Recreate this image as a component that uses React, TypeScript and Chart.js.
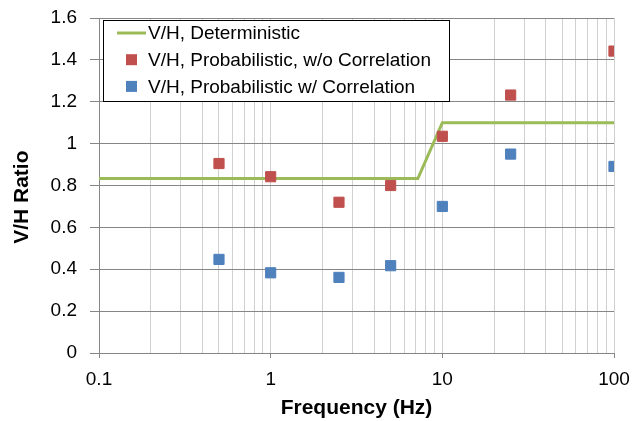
import React, { useEffect, useRef } from "react";
import { Chart, registerables } from "chart.js";

Chart.register(...registerables);

const frequencies = [0.5, 1, 2.5, 5, 10, 25, 100];
const ratioNoCorrelation = [0.905, 0.842, 0.72, 0.8, 1.035, 1.232, 1.442];
const ratioWithCorrelation = [0.447, 0.383, 0.361, 0.417, 0.7, 0.95, 0.891];
const deterministicFreq = [0.1, 7.2, 10, 100];
const deterministicRatio = [0.833, 0.833, 1.1, 1.1];
const seriesLabels = [
  "V/H, Deterministic",
  "V/H, Probabilistic, w/o Correlation",
  "V/H, Probabilistic w/ Correlation",
];
const seriesColors = ["#9BBB59", "#C0504D", "#4F81BD"];
const xDecades = [0.1, 1, 10];
const xMax = 100;
const yMin = 0;
const yMax = 1.6;
const yStep = 0.2;

const FONT = "'Liberation Sans', Arial, sans-serif";

const isMajor = (v: number) => {
  const l = Math.log10(v);
  return Math.abs(l - Math.round(l)) < 1e-9;
};

const legendPlugin = {
  id: "boxLegend",
  afterDraw(chart: any) {
    const ctx = chart.ctx;
    const area = chart.chartArea;
    const x0 = area.left + 4;
    const y0 = area.top + 2;
    const w = 346;
    const h = 81;
    ctx.save();
    ctx.fillStyle = "#ffffff";
    ctx.fillRect(x0, y0, w, h);
    ctx.strokeStyle = "#000000";
    ctx.lineWidth = 1;
    ctx.strokeRect(x0 + 0.5, y0 + 0.5, w, h);
    ctx.font = `19px ${FONT}`;
    ctx.textBaseline = "middle";
    ctx.textAlign = "left";
    seriesLabels.forEach((label, i) => {
      const cy = y0 + 13 + i * 26.7;
      if (i === 0) {
        ctx.strokeStyle = seriesColors[0];
        ctx.lineWidth = 3;
        ctx.beginPath();
        ctx.moveTo(x0 + 14, cy);
        ctx.lineTo(x0 + 43, cy);
        ctx.stroke();
      } else {
        ctx.fillStyle = seriesColors[i];
        ctx.fillRect(x0 + 23, cy - 5.5, 11, 11);
      }
      ctx.fillStyle = "#000000";
      ctx.fillText(label, x0 + 45, cy + 1);
    });
    ctx.restore();
  },
};

export default function App() {
  const canvasRef = useRef<HTMLCanvasElement | null>(null);

  useEffect(() => {
    document.body.style.margin = "0";
    const canvas = canvasRef.current;
    if (!canvas) return;

    const chart = new Chart(canvas, {
      type: "scatter",
      data: {
        datasets: [
          {
            label: seriesLabels[0],
            data: deterministicFreq.map((x, i) => ({ x, y: deterministicRatio[i] })),
            showLine: true,
            borderColor: seriesColors[0],
            backgroundColor: seriesColors[0],
            borderWidth: 3,
            pointRadius: 0,
            order: 5,
          },
          {
            label: seriesLabels[1],
            data: frequencies.map((x, i) => ({ x, y: ratioNoCorrelation[i] })),
            pointStyle: "rect",
            pointRadius: 7.2,
            pointBorderWidth: 1,
            borderColor: seriesColors[1],
            backgroundColor: seriesColors[1],
            order: 1,
          },
          {
            label: seriesLabels[2],
            data: frequencies.map((x, i) => ({ x, y: ratioWithCorrelation[i] })),
            pointStyle: "rect",
            pointRadius: 7.2,
            pointBorderWidth: 1,
            borderColor: seriesColors[2],
            backgroundColor: seriesColors[2],
            order: 0,
          },
        ],
      },
      options: {
        animation: false,
        responsive: false,
        layout: { padding: { top: 18, right: 20, left: 0, bottom: 0 } },
        plugins: {
          legend: { display: false },
          tooltip: { enabled: false },
        },
        scales: {
          x: {
            type: "logarithmic",
            min: xDecades[0],
            max: xMax,
            afterFit: (scale: any) => {
              scale.height = 68;
              scale.paddingLeft = 0;
              scale.paddingRight = 0;
            },
            afterBuildTicks: (scale: any) => {
              const ticks: { value: number }[] = [];
              xDecades.forEach((d) => {
                for (let m = 1; m <= 9; m++) ticks.push({ value: m * d });
              });
              ticks.push({ value: xMax });
              scale.ticks = ticks;
            },
            border: { color: "#868686", width: 1 },
            grid: {
              color: "#D0D0D0",
              lineWidth: 1,
              tickLength: 5,
              tickColor: (ctx: any) =>
                ctx.tick && isMajor(ctx.tick.value) ? "#868686" : "rgba(0,0,0,0)",
            },
            ticks: {
              autoSkip: false,
              maxRotation: 0,
              padding: 10,
              color: "#000000",
              font: { family: FONT, size: 19 },
              callback: (value: any) => {
                const v = Number(value);
                return isMajor(v) ? String(Number(v.toPrecision(3))) : "";
              },
            },
            title: {
              display: true,
              text: "Frequency (Hz)",
              color: "#000000",
              font: { family: FONT, size: 21, weight: "bold" },
              padding: { top: 1, bottom: 0 },
            },
          },
          y: {
            type: "linear",
            min: yMin,
            max: yMax,
            afterFit: (scale: any) => {
              scale.width = 99;
              scale.paddingTop = 0;
              scale.paddingBottom = 0;
            },
            border: { color: "#868686", width: 1 },
            grid: {
              color: "#868686",
              lineWidth: 1,
              tickLength: 9,
              tickColor: "#868686",
            },
            ticks: {
              stepSize: yStep,
              padding: 13,
              color: "#000000",
              font: { family: FONT, size: 19 },
              callback: (value: any) => String(Number(Number(value).toFixed(1))),
            },
            title: {
              display: true,
              text: "V/H Ratio    ",
              color: "#000000",
              font: { family: FONT, size: 21, weight: "bold" },
              padding: { top: 10, bottom: 0 },
            },
          },
        },
      },
      plugins: [legendPlugin],
    });

    return () => chart.destroy();
  }, []);

  return (
    <div style={{ position: "absolute", left: 0, top: 0, width: 634, height: 421 }}>
      <canvas ref={canvasRef} width={634} height={421} style={{ display: "block" }} />
    </div>
  );
}
